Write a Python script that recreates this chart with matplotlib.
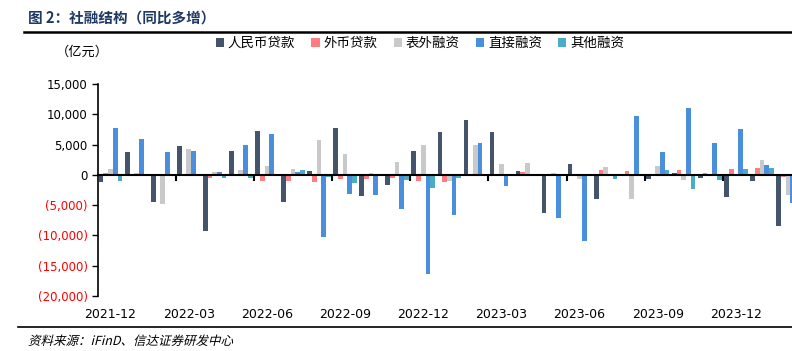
import matplotlib
matplotlib.use("Agg")
import matplotlib.pyplot as plt
from matplotlib.lines import Line2D
from matplotlib.ticker import FuncFormatter
from matplotlib.textpath import TextPath
from matplotlib.patches import PathPatch
from matplotlib.transforms import Affine2D
from matplotlib.font_manager import FontProperties
import numpy as np

plt.rcParams['font.family'] = ['DejaVu Sans', 'Noto Sans CJK SC']

# 月份（2021-12 至 2024-02）
months = ['2021-12', '2022-01', '2022-02', '2022-03', '2022-04', '2022-05', '2022-06',
          '2022-07', '2022-08', '2022-09', '2022-10', '2022-11', '2022-12', '2023-01',
          '2023-02', '2023-03', '2023-04', '2023-05', '2023-06', '2023-07', '2023-08',
          '2023-09', '2023-10', '2023-11', '2023-12', '2024-01', '2024-02']

# 同比多增，亿元
rmb_loans = [-1100, 3700, -4420, 4750, -9280, 3880, 7260, -4420, 600, 7800, -3440, -1600,
             3930, 7150, 9120, 7040, 650, -6280, 1800, -3990, 0, -720, 270, -450, -3600,
             -950, -8520]
fx_loans = [380, 0, 0, 0, -450, -220, -1050, -1050, -1150, -720, -720, -550, -1050, -1150,
            -50, 50, 400, 0, 0, 720, 600, 0, 850, 250, 1040, 1090, -300]
off_balance = [1000, 300, -4750, 4200, 550, 800, 1500, 950, 5680, 3390, 380, 2200, 4860,
               -1000, 4860, 1720, 1950, 300, -720, 1280, -3930, 1500, -850, 0, 0, 2500, -3280]
direct_fin = [7800, 5840, 3700, 3930, 550, 4860, 6720, 550, -10200, -3170, -3390, -5680,
              -16430, -6660, 5300, -1830, -200, -7150, -10920, 50, 9660, 3710, 11030, 5240,
              7640, 1550, -4640]
other_fin = [-950, -80, 0, -200, -600, -550, 100, 870, -400, -1370, 0, -820, -2220, -500,
             0, -270, -100, 0, -50, -710, -220, 820, -2400, -820, 930, 1150, 0]

series = [('人民币贷款', rmb_loans, '#44546A'),
          ('外币贷款', fx_loans, '#FF7C80'),
          ('表外融资', off_balance, '#C9C9C9'),
          ('直接融资', direct_fin, '#4A8FDB'),
          ('其他融资', other_fin, '#4BACC6')]

cjk = ['Noto Sans CJK SC', 'DejaVu Sans']

fig = plt.figure(figsize=(7.92, 3.51), dpi=100)
ax = fig.add_axes([97.5 / 792, 55 / 351, 703.5 / 792, 212 / 351])

x = np.arange(len(months))
w = 0.18
for k, (name, vals, col) in enumerate(series):
    ax.bar(x + (k - 2) * w, vals, width=w, color=col, label=name, zorder=2)

ax.set_xlim(-0.5, len(months) - 0.5)
ax.set_ylim(-20000, 15000)
ax.set_yticks(np.arange(-20000, 15001, 5000))


def fmt(v, pos):
    if v < 0:
        return f'({abs(v):,.0f})'
    return f'{v:,.0f}'


ax.yaxis.set_major_formatter(FuncFormatter(fmt))
ax.tick_params(axis='y', length=4, width=1, labelsize=8.5, pad=3)
for lab, v in zip(ax.get_yticklabels(), ax.get_yticks()):
    lab.set_color('red' if v < 0 else 'black')

# 零轴及刻度
for s in ['top', 'right']:
    ax.spines[s].set_visible(False)
ax.spines['left'].set_linewidth(1.2)
ax.spines['bottom'].set_position(('data', 0))
ax.spines['bottom'].set_linewidth(1.5)
ax.spines['bottom'].set_zorder(3)
ax.set_xticks(np.arange(2.5, len(months) - 1, 3))
ax.tick_params(axis='x', length=4, width=1.5, labelbottom=False)

# 底部日期标签
sec = ax.secondary_xaxis('bottom')
sec.set_xticks(x[::3])
sec.set_xticklabels(months[::3])
sec.tick_params(length=0, pad=9, labelsize=9)
sec.spines['bottom'].set_visible(False)

# 标题、线条、注释
fig.text(0.035, 0.949, '图 2：社融结构（同比多增）', fontsize=10.5, fontweight='bold',
         color='#1F3864', va='center', family=cjk)
fig.add_artist(Line2D([0.030, 1.0], [0.910, 0.910], color='black', lw=1.8))
fig.add_artist(Line2D([0.023, 1.0], [0.068, 0.068], color='black', lw=1.2))

# 斜体来源（CJK 字体无斜体，用倾斜变换）
src = TextPath((0, 0), '资料来源：iFinD、信达证券研发中心', size=12.5,
               prop=FontProperties(family=cjk))
src_tr = Affine2D().skew_deg(14, 0).translate(28, 351 - 345)
fig.add_artist(PathPatch(src, transform=src_tr, facecolor='black', lw=0))

fig.text(0.070, 0.852, '（亿元）', fontsize=9.5, va='center', family=cjk)

fig.legend(loc='center left', bbox_to_anchor=(0.257, 0.877), ncol=5, frameon=False,
           handlelength=0.6, handleheight=0.6, handletextpad=0.3, columnspacing=1.2,
           prop={'family': cjk, 'size': 9.7})

fig.savefig('out.png', dpi=100)
